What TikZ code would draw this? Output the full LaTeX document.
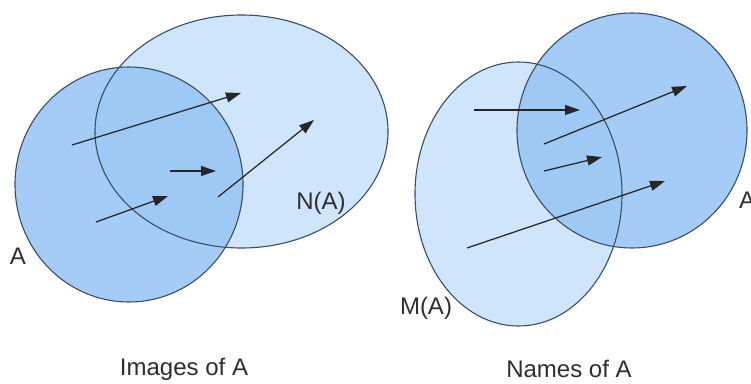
\documentclass[tikz,border=0pt]{standalone}
\usepackage{fontspec}
\setmainfont{Liberation Sans}
\usetikzlibrary{arrows.meta}
\definecolor{lightset}{RGB}{206,229,251}
\definecolor{darkset}{RGB}{152,198,245}
\definecolor{rim}{RGB}{58,78,98}
\begin{document}
\begin{tikzpicture}[x=1pt,y=-1pt,
  lightfill/.style={fill=lightset},
  darkfill/.style={fill=darkset,fill opacity=0.88},
  rimline/.style={draw=rim,line width=1.1pt},
  mapto/.style={draw=black!85,line width=1.25pt,-{Triangle[length=15pt,width=10pt]}},
  lbl/.style={font=\fontsize{24}{28}\selectfont,text=black!82,inner sep=0pt}]
\useasboundingbox (0,0) rectangle (751,383);
\fill[white] (0,0) rectangle (751,383);
% left group: fills
\fill[lightfill] (241.5,131.5) ellipse [x radius=146.5,y radius=116.5];
\fill[darkfill] (129,184.5) ellipse [x radius=114,y radius=117.5];
% right group: fills
\fill[lightfill] (518.5,194) ellipse [x radius=103.5,y radius=132];
\fill[darkfill] (632,130.5) ellipse [x radius=115,y radius=117.5];
% outlines
\draw[rimline] (241.5,131.5) ellipse [x radius=146.5,y radius=116.5];
\draw[rimline] (129,184.5) ellipse [x radius=114,y radius=117.5];
\draw[rimline] (518.5,194) ellipse [x radius=103.5,y radius=132];
\draw[rimline] (632,130.5) ellipse [x radius=115,y radius=117.5];
% arrow endpoints, left
\coordinate (l1s) at (72,145);  \coordinate (l1e) at (241,93);
\coordinate (l2s) at (218,197); \coordinate (l2e) at (314,120);
\coordinate (l3s) at (170,171); \coordinate (l3e) at (216,171);
\coordinate (l4s) at (96,222);  \coordinate (l4e) at (168,196);
% arrow endpoints, right
\coordinate (r1s) at (474,110); \coordinate (r1e) at (580,110);
\coordinate (r2s) at (544,144); \coordinate (r2e) at (687,86);
\coordinate (r3s) at (544,171); \coordinate (r3e) at (602,157);
\coordinate (r4s) at (467,248); \coordinate (r4e) at (665,181);
\draw[mapto] (l1s) -- (l1e);
\draw[mapto] (l2s) -- (l2e);
\draw[mapto] (l3s) -- (l3e);
\draw[mapto] (l4s) -- (l4e);
\draw[mapto] (r1s) -- (r1e);
\draw[mapto] (r2s) -- (r2e);
\draw[mapto] (r3s) -- (r3e);
\draw[mapto] (r4s) -- (r4e);
% labels
\node[lbl] (labA) at (18,256) {A};
\node[lbl] (labN) at (321,203) {N(A)};
\node[lbl] (labM) at (426,308) {M(A)};
\node[lbl] (labA2) at (747,200) {A};
\node[lbl] (capL) at (184,369) {Images of A};
\node[lbl] (capR) at (569,369) {Names of A};
\end{tikzpicture}
\end{document}
